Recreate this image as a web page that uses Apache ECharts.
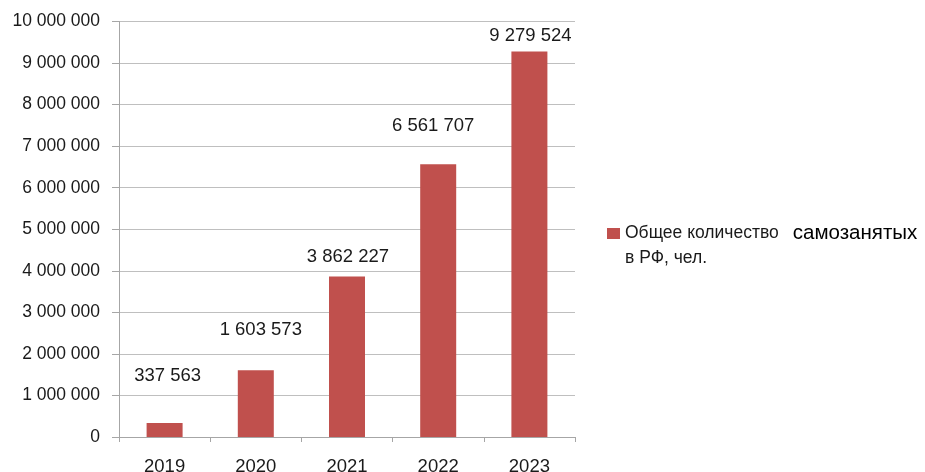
<!DOCTYPE html>
<html>
<head>
<meta charset="utf-8">
<script src="https://cdn.jsdelivr.net/npm/echarts@6/dist/echarts.min.js"></script>
<style>
  html, body { margin: 0; padding: 0; background: #fff; }
  #main { width: 925px; height: 472px; }
</style>
</head>
<body>
<div id="main"></div>
<script>
const years = ['2019', '2020', '2021', '2022', '2023'];
const selfEmployed = [337563, 1603573, 3862227, 6561707, 9279524];
const seriesName = 'Общее количество самозанятых в РФ, чел.';

// label nudges, as placed by hand in the original
const labelShift = [[3, -33], [5, -26], [1, -5], [-5, -24], [1, -1]];

const fmt = (v) => String(v).replace(/\B(?=(\d{3})+(?!\d))/g, ' ');
const font = 'Liberation Sans';

const chart = echarts.init(document.getElementById('main'));

const option = {
  backgroundColor: '#fff',
  animation: false,
  grid: { left: 119, right: 350, top: 21.5, bottom: 35, containLabel: false, outerBoundsMode: 'none' },
  legend: {
    orient: 'vertical',
    left: 607,
    top: 223,
    padding: 0,
    itemWidth: 13,
    itemHeight: 11,
    icon: 'rect',
    formatter: () => '{a|Общее количество}{gap|}{b|самозанятых}\n{a|в РФ, чел.}',
    textStyle: {
      fontFamily: font,
      padding: [25, 0, 0, 0],
      rich: {
        a: { fontSize: 17.5, fontFamily: font, color: '#1a1a1a', lineHeight: 25 },
        gap: { width: 14, lineHeight: 25 },
        b: { fontSize: 20.5, fontFamily: font, color: '#000', lineHeight: 25 },
      },
    },
  },
  xAxis: {
    type: 'category',
    data: years,
    axisLine: { lineStyle: { color: '#a6a6a6' } },
    axisTick: { show: true, length: 5, lineStyle: { color: '#a6a6a6' } },
    axisLabel: { margin: 20, fontSize: 18.5, fontFamily: font, color: '#1a1a1a' },
  },
  yAxis: {
    type: 'value',
    min: 0,
    max: 10000000,
    interval: 1000000,
    axisLine: { show: true, lineStyle: { color: '#a6a6a6' } },
    axisTick: { show: true, length: 7, lineStyle: { color: '#a6a6a6' } },
    splitLine: { lineStyle: { color: '#bfbfbf' } },
    axisLabel: { margin: 19, fontSize: 17.5, fontFamily: font, color: '#1a1a1a', formatter: fmt },
  },
  series: [
    {
      name: seriesName,
      type: 'bar',
      barWidth: 36,
      itemStyle: { color: '#c0504d' },
      data: selfEmployed.map((v, i) => ({
        value: v,
        label: { offset: labelShift[i] },
      })),
      label: {
        show: true,
        position: 'top',
        fontSize: 18.5,
        fontFamily: font,
        color: '#1a1a1a',
        formatter: (p) => fmt(p.value),
      },
    },
  ],
};

chart.setOption(option);
</script>
</body>
</html>
